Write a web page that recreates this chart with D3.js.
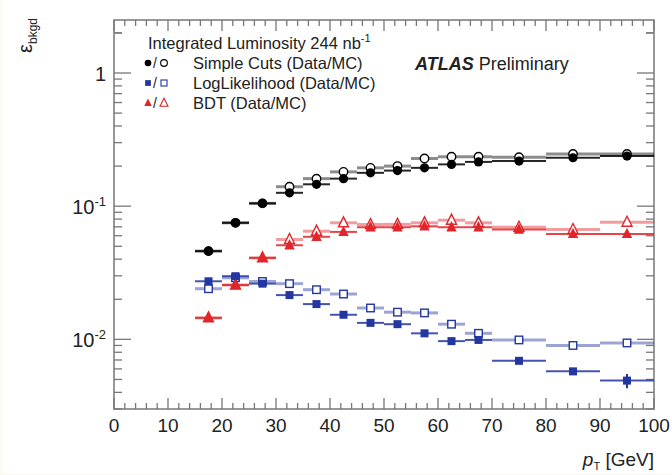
<!DOCTYPE html>
<html><head><meta charset="utf-8">
<script src="https://cdn.jsdelivr.net/npm/d3@7"></script>
<style>
html,body{margin:0;padding:0;background:#fbfaf4;}
svg{display:block;font-family:"Liberation Sans",Arial,Helvetica,sans-serif;}
</style></head>
<body>
<svg id="c" width="672" height="475"></svg>
<script>
// ---- data ----
const binCenters = [17.5,22.5,27.5,32.5,37.5,42.5,47.5,52.5,57.5,62.5,67.5,75,85,95];
const binHalfWidths = [2.5,2.5,2.5,2.5,2.5,2.5,2.5,2.5,2.5,2.5,2.5,5,5,5];
const simpleData = [0.046,0.075,0.105,0.126,0.146,0.161,0.178,0.185,0.194,0.206,0.215,0.218,0.231,0.238];
const simpleMC   = [0.046,0.075,0.105,0.140,0.161,0.181,0.194,0.200,0.228,0.235,0.235,0.233,0.247,0.247];
const llhData    = [0.0273,0.0298,0.0262,0.0215,0.0184,0.0153,0.0133,0.0130,0.0111,0.0097,0.0099,0.0069,0.00575,0.0049];
const llhMC      = [0.0240,0.0290,0.0272,0.0262,0.0236,0.0219,0.0172,0.0160,0.0158,0.0130,0.0111,0.0099,0.0090,0.0094];
const llhDataErr = [0,0,0,0,0,0,0,0,0,0,0,0.0002,0.0003,0.0006];
const bdtData    = [0.0145,0.0256,0.0409,0.0509,0.0589,0.0641,0.0695,0.0695,0.0706,0.0695,0.0695,0.0668,0.0619,0.0619];
const bdtMC      = [0.0145,0.0256,0.0409,0.0562,0.0649,0.0750,0.0728,0.0730,0.0750,0.0785,0.0750,0.0695,0.0668,0.0758];
const xTicks = [0,10,20,30,40,50,60,70,80,90,100];
const yDecades = [1,0.1,0.01];
const legendLabels = ["Simple Cuts (Data/MC)","LogLikelihood (Data/MC)","BDT (Data/MC)"];

const svg = d3.select("#c");
svg.append("rect").attr("x",3).attr("y",0).attr("width",669).attr("height",473).attr("fill","#fff");

const L=114,R=654,T=20,B=409;
const x = d3.scaleLinear().domain([0,100]).range([L,R]);
const y = d3.scaleLog().domain([0.003,2.5]).range([B,T]);
const axisCol="#777";

// frame
svg.append("rect").attr("x",L).attr("y",T).attr("width",R-L).attr("height",B-T)
  .attr("fill","none").attr("stroke",axisCol).attr("stroke-width",1.5);

// x ticks (bottom & top, inward)
const xMinor = d3.range(0,101,2);
xMinor.forEach(v=>{
  const major = v%10===0;
  const len = major?11:6;
  svg.append("line").attr("x1",x(v)).attr("x2",x(v)).attr("y1",B).attr("y2",B-len).attr("stroke",axisCol).attr("stroke-width",1.3);
  svg.append("line").attr("x1",x(v)).attr("x2",x(v)).attr("y1",T).attr("y2",T+len).attr("stroke",axisCol).attr("stroke-width",1.3);
});
xTicks.forEach(v=>{
  svg.append("text").attr("x",x(v)).attr("y",432).attr("text-anchor","middle")
    .attr("font-size",19).attr("fill","#222").text(v);
});

// y ticks (left & right, inward)
const yt = [];
for (let e=-3;e<=0;e++) for (let m=1;m<=9;m++){ const v=m*Math.pow(10,e); if(v>=0.003&&v<=2.5) yt.push([v,m===1]); }
yt.push([2,false]);
yt.forEach(([v,major])=>{
  const len = major?17:8;
  svg.append("line").attr("x1",L).attr("x2",L+len).attr("y1",y(v)).attr("y2",y(v)).attr("stroke",axisCol).attr("stroke-width",1.3);
  svg.append("line").attr("x1",R).attr("x2",R-len).attr("y1",y(v)).attr("y2",y(v)).attr("stroke",axisCol).attr("stroke-width",1.3);
});
yDecades.forEach(v=>{
  const t = svg.append("text").attr("x",106).attr("y",y(v)+8).attr("text-anchor","end").attr("font-size",20).attr("fill","#222");
  if (v===1) t.text("1");
  else { t.append("tspan").text("10"); t.append("tspan").attr("dy",-8).attr("font-size",13).text(String(Math.round(Math.log10(v)))); }
});

// axis titles
const xt = svg.append("text").attr("x",654).attr("y",466).attr("text-anchor","end").attr("font-size",19).attr("fill","#222");
xt.append("tspan").attr("font-style","italic").text("p");
xt.append("tspan").attr("font-size",11).attr("dy",4).text("T");
xt.append("tspan").attr("dy",-4).text(" [GeV]");
const yl = svg.append("text").attr("transform","translate(32,18) rotate(-90)").attr("text-anchor","end").attr("font-size",20).attr("fill","#222");
yl.append("tspan").text("ε");
yl.append("tspan").attr("font-size",12).attr("dy",5).text("bkgd");

// series
const black="#000", blue="#2436a0", red="#e0262a";
const series = [
  {data:simpleData, mc:simpleMC, err:null, col:black, shape:"circle"},
  {data:llhData, mc:llhMC, err:llhDataErr, col:blue, shape:"square"},
  {data:bdtData, mc:bdtMC, err:null, col:red, shape:"triangle"}
];
function marker(g, cx, cy, shape, col, filled, k=1){
  const fill = filled?col:"#fff";
  const sw = filled?0:1.4*Math.max(k,0.8);
  if (shape==="circle") g.append("circle").attr("cx",cx).attr("cy",cy).attr("r",(filled?4.6:4.2)*k).attr("fill",fill).attr("stroke",col).attr("stroke-width",sw);
  else if (shape==="square") { const s=(filled?8:7.5)*k; g.append("rect").attr("x",cx-s/2).attr("y",cy-s/2).attr("width",s).attr("height",s).attr("fill",fill).attr("stroke",col).attr("stroke-width",sw); }
  else { const s=(filled?5.2:5)*k; g.append("path").attr("d",`M${cx},${cy-s-1*k}L${cx+s},${cy+s-1*k}L${cx-s},${cy+s-1*k}Z`).attr("fill",fill).attr("stroke",col).attr("stroke-width",sw); }
}
const gMC = svg.append("g"), gD = svg.append("g");
series.forEach(s=>{
  binCenters.forEach((c,i)=>{
    const hw = binHalfWidths[i];
    gMC.append("line").attr("x1",x(c-hw)).attr("x2",x(c+hw)).attr("y1",y(s.mc[i])).attr("y2",y(s.mc[i]))
      .attr("stroke",s.col).attr("stroke-width",3).attr("stroke-opacity",0.45);
    marker(gMC, x(c), y(s.mc[i]), s.shape, s.col, false);
  });
});
series.forEach(s=>{
  binCenters.forEach((c,i)=>{
    const hw = binHalfWidths[i];
    gD.append("line").attr("x1",x(c-hw)).attr("x2",x(c+hw)).attr("y1",y(s.data[i])).attr("y2",y(s.data[i]))
      .attr("stroke",s.col).attr("stroke-width",2).attr("stroke-opacity",0.85);
    if (s.err && s.err[i]>0) gD.append("line").attr("x1",x(c)).attr("x2",x(c)).attr("y1",y(s.data[i]-s.err[i])).attr("y2",y(s.data[i]+s.err[i]))
      .attr("stroke",s.col).attr("stroke-width",2);
    marker(gD, x(c), y(s.data[i]), s.shape, s.col, true);
  });
});

// legend
const fs = 16.5;
svg.append("text").attr("x",148).attr("y",49).attr("font-size",fs).attr("fill","#222")
  .text("Integrated Luminosity 244 nb").append("tspan").attr("dy",-7).attr("font-size",11).text("-1");
const legY=[63,83,103];
series.forEach((s,i)=>{
  const g = svg.append("g");
  marker(g, 148, legY[i], s.shape, s.col, true, 0.72);
  g.append("text").attr("x",153).attr("y",legY[i]+5).attr("font-size",14).attr("fill","#222").text("/");
  marker(g, 164, legY[i], s.shape, s.col, false, 0.8);
  g.append("text").attr("x",193).attr("y",legY[i]+6).attr("font-size",fs).attr("fill","#222").text(legendLabels[i]);
});
const at = svg.append("text").attr("x",415).attr("y",70).attr("font-size",18).attr("fill","#222");
at.append("tspan").attr("font-weight","bold").attr("font-style","italic").text("ATLAS");
at.append("tspan").text(" Preliminary");
</script>
</body></html>
